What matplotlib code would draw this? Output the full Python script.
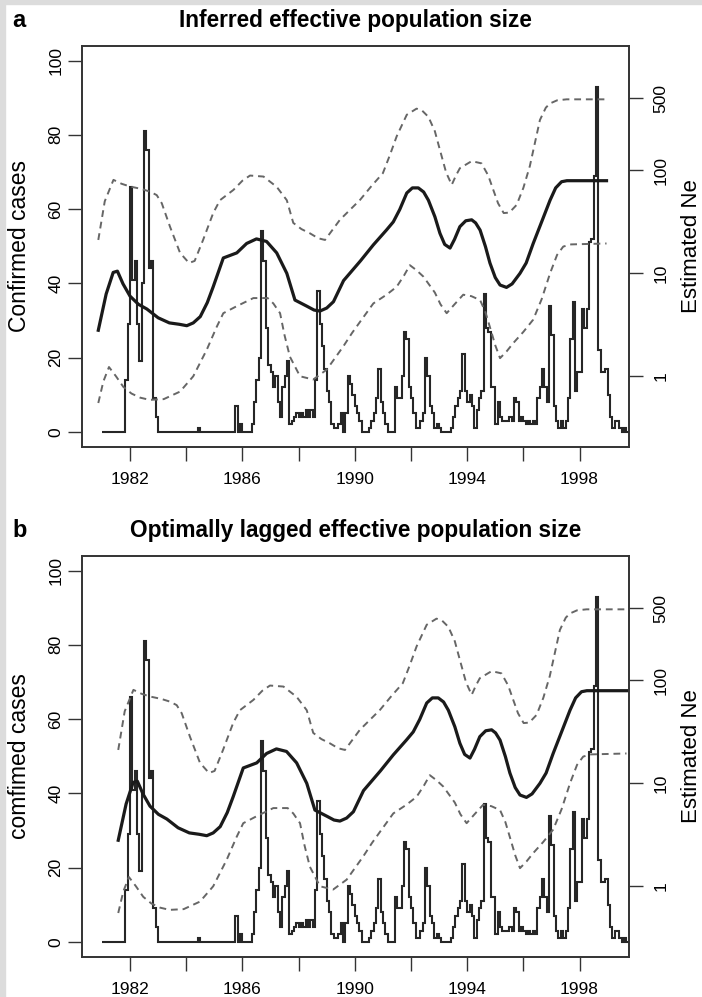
import numpy as np
import matplotlib
matplotlib.use('agg')
matplotlib.rcParams.update(
    {'font.size': 12.5,
     'font.family': ['Liberation Sans', 'DejaVu Sans']}
)
import matplotlib.pyplot as plt
from matplotlib.patches import Rectangle

# monthly confirmed cases, Jan 1981 .. Sep 1999
cases_start = 1981.0
cases = [
    0, 0, 0, 0, 0, 0, 0, 0, 0, 0, 14, 29,           # 1981
    66, 41, 46, 29, 19, 40, 81, 76, 44, 46, 9, 4,   # 1982
    0, 0, 0, 0, 0, 0, 0, 0, 0, 0, 0, 0,             # 1983
    0, 0, 0, 0, 0, 1, 0, 0, 0, 0, 0, 0,             # 1984
    0, 0, 0, 0, 0, 0, 0, 0, 0, 7, 0, 2,             # 1985
    0, 0, 0, 0, 2, 8, 14, 20, 54, 46, 28, 18,       # 1986
    16, 12, 15, 8, 4, 12, 15, 19, 2, 3, 4, 5,       # 1987
    4, 5, 4, 6, 4, 6, 4, 14, 38, 29, 23, 17,        # 1988
    11, 8, 2, 1, 1, 2, 5, 0, 5, 15, 13, 10,         # 1989
    7, 5, 3, 0, 0, 0, 1, 3, 5, 9, 17, 8,            # 1990
    5, 2, 0, 0, 0, 12, 9, 9, 15, 27, 25, 12,        # 1991
    9, 5, 1, 1, 3, 5, 20, 15, 7, 5, 1, 2,           # 1992
    1, 0, 0, 0, 0, 1, 4, 7, 9, 11, 21, 11,          # 1993
    8, 10, 7, 1, 6, 9, 11, 37, 28, 27, 12, 12,      # 1994
    2, 8, 4, 3, 3, 3, 4, 3, 9, 8, 3, 4,             # 1995
    3, 2, 3, 2, 3, 2, 9, 12, 17, 12, 8, 34,         # 1996
    26, 7, 3, 1, 3, 1, 3, 9, 25, 35, 11, 16,        # 1997
    16, 33, 28, 33, 51, 52, 69, 93, 22, 16, 16, 17, # 1998
    10, 4, 1, 3, 3, 1, 0, 1, 0,                     # 1999
]

# inferred Ne (median and 95% bounds)
ne_mid_t = [1980.87, 1981.15, 1981.4, 1981.55, 1981.75, 1982.0, 1982.3, 1982.6,
            1983.0, 1983.4, 1983.75, 1984.02, 1984.25, 1984.5, 1984.75, 1984.96,
            1985.32, 1985.8, 1986.15, 1986.5, 1986.86, 1987.22, 1987.58, 1987.87,
            1988.29, 1988.55, 1988.76, 1989.0, 1989.24, 1989.6, 1990.2, 1990.66,
            1991.13, 1991.37, 1991.6, 1991.85, 1992.05, 1992.26, 1992.45, 1992.62,
            1992.85, 1993.03, 1993.2, 1993.39, 1993.55, 1993.74, 1993.95, 1994.16,
            1994.3, 1994.46, 1994.65, 1994.81, 1995.0, 1995.17, 1995.4, 1995.6,
            1995.88, 1996.1, 1996.35, 1996.65, 1996.95, 1997.15, 1997.36, 1997.55,
            1998.96]
ne_mid = [2.8, 6.3, 10.2, 10.5, 7.9, 6.0, 5.0, 4.5,
          3.7, 3.3, 3.2, 3.1, 3.3, 3.8, 5.2, 7.4,
          14.1, 15.8, 19.5, 21.6, 20.4, 15.8, 10.0, 5.5,
          4.8, 4.4, 4.3, 4.6, 5.3, 8.5, 13.2, 18.9,
          26.4, 31.6, 41.7, 60.3, 67.6, 67.6, 61.7, 51.3,
          35.5, 24.5, 19.1, 17.6, 21.4, 28.4, 32.4, 33.1,
          30.9, 26.3, 18.2, 12.6, 9.1, 7.7, 7.3, 7.9,
          10.0, 12.6, 19.5, 31.6, 51.3, 67.6, 77.6, 79.4,
          79.4]

ne_hi_t = [1980.87, 1981.1, 1981.41, 1981.7, 1982.0, 1982.4, 1982.71, 1982.95,
           1983.13, 1983.42, 1983.78, 1984.1, 1984.3, 1984.6, 1984.96, 1985.2,
           1985.68, 1986.0, 1986.27, 1986.75, 1987.22, 1987.58, 1987.81, 1988.1,
           1988.4, 1988.7, 1988.94, 1989.2, 1989.47, 1990.19, 1990.6, 1991.0,
           1991.25, 1991.49, 1991.85, 1992.2, 1992.4, 1992.62, 1992.85, 1993.03,
           1993.25, 1993.45, 1993.6, 1993.74, 1994.16, 1994.51, 1994.75, 1994.93,
           1995.1, 1995.3, 1995.5, 1995.76, 1996.0, 1996.23, 1996.59, 1996.8,
           1996.95, 1997.2, 1997.54, 1998.96]
ne_hi = [21.1, 50.1, 80.9, 74.1, 69.7, 66.1, 62.2, 57.5,
         47.9, 28.5, 15.8, 12.6, 13.2, 21.1, 38.5, 51.3,
         64.6, 79.4, 89.1, 87.1, 69.2, 51.3, 30.9, 26.9,
         24.5, 21.9, 21.1, 26.3, 33.1, 51.8, 70.8, 94.0,
         141, 214, 347, 398, 380, 331, 240, 158,
         95.5, 72.4, 89.1, 105, 123, 117, 89.1, 64.6,
         47.9, 38.5, 38.9, 46.2, 67.6, 110, 309, 407,
         447, 479, 490, 490]

ne_lo_t = [1980.87, 1981.05, 1981.25, 1981.5, 1981.76, 1982.05, 1982.36, 1982.7,
           1983.2, 1983.78, 1984.25, 1984.73, 1985.08, 1985.32, 1985.8, 1986.39,
           1986.9, 1987.1, 1987.34, 1987.5, 1987.69, 1988.05, 1988.52, 1989.0,
           1989.3, 1989.59, 1989.9, 1990.19, 1990.66, 1991.13, 1991.49, 1991.75,
           1991.96, 1992.2, 1992.44, 1992.85, 1993.05, 1993.27, 1993.55, 1993.86,
           1994.15, 1994.46, 1994.65, 1994.81, 1995.0, 1995.17, 1995.4, 1995.64,
           1996.0, 1996.35, 1996.65, 1996.95, 1997.2, 1997.42, 1997.7, 1998.96]
ne_lo = [0.55, 0.89, 1.23, 1.0, 0.79, 0.68, 0.62, 0.59,
         0.60, 0.71, 1.0, 1.81, 3.0, 4.1, 4.8, 5.75,
         5.75, 5.1, 4.1, 2.5, 1.55, 1.0, 0.93, 1.16,
         1.51, 1.95, 2.63, 3.39, 5.1, 6.2, 7.4, 9.5,
         12.0, 10.7, 9.3, 6.5, 5.0, 4.1, 5.0, 6.2,
         6.0, 5.5, 4.2, 3.0, 2.0, 1.5, 1.74, 2.1,
         2.7, 3.55, 5.6, 10.0, 15.1, 18.2, 19.1, 19.5]

lag = 0.71  # years, for the lagged panel

edges = cases_start + np.arange(len(cases) + 1) / 12.0

W, H = 702, 997
fig = plt.figure(figsize=(W / 100, H / 100), dpi=100)
fig.patch.set_facecolor('white')
fig.patches.append(Rectangle((0, 0), 5 / W, 1, transform=fig.transFigure,
                             color='#dcdcdc', zorder=0))
fig.patches.append(Rectangle((0, 1 - 4 / H), 1, 4 / H, transform=fig.transFigure,
                             color='#dcdcdc', zorder=0))

panels = [
    dict(top=45.7, shift=0.0, letter='a', title='Inferred effective population size',
         ylab='Confirmed cases'),
    dict(top=555.7, shift=lag, letter='b', title='Optimally lagged effective population size',
         ylab='comfimed cases'),
]

left, right = 82, 629
h = 401
tick_kw = dict(direction='out', length=10, width=1.0, color='#333333')

for p in panels:
    ax = fig.add_axes([left / W, 1 - (p['top'] + h) / H, (right - left) / W, h / H])
    ax.stairs(cases, edges, baseline=None, color='#262626', lw=1.5, zorder=2)
    ax.set_xlim(1980.29, 1999.76)
    ax.set_ylim(-4, 104)
    ax.set_yticks(range(0, 101, 20))
    ax.set_xticks(range(1982, 1999, 2))
    ax.set_xticklabels([str(y) if (y - 1982) % 4 == 0 else '' for y in range(1982, 1999, 2)])
    ax.tick_params(axis='x', pad=8.5, **tick_kw)
    ax.tick_params(axis='y', pad=3.5, labelrotation=90, **tick_kw)
    for lab in ax.get_yticklabels():
        lab.set_va('center')
    for s in ax.spines.values():
        s.set_linewidth(1.2)
        s.set_color('#333333')

    ax2 = ax.twinx()
    ax2.set_yscale('log')
    ax2.set_ylim(0.207, 1626)
    ax2.plot(np.array(ne_hi_t) + p['shift'], ne_hi, color='#666666', lw=1.4,
             ls=(0, (3.5, 2.5)), zorder=3)
    ax2.plot(np.array(ne_lo_t) + p['shift'], ne_lo, color='#666666', lw=1.4,
             ls=(0, (3.5, 2.5)), zorder=3)
    ax2.plot(np.array(ne_mid_t) + p['shift'], ne_mid, color='#1a1a1a', lw=2.3, zorder=4)
    ax2.set_yticks([1, 10, 100, 500])
    ax2.set_yticklabels(['1', '10', '100', '500'])
    ax2.yaxis.set_minor_locator(matplotlib.ticker.NullLocator())
    ax2.tick_params(axis='y', pad=7.5, labelrotation=90, **tick_kw)
    for lab in ax2.get_yticklabels():
        lab.set_va('center')
    for s in ax2.spines.values():
        s.set_linewidth(1.2)
        s.set_color('#333333')

    mid = 1 - (p['top'] + h / 2) / H
    fig.text(12 / W, 1 - (p['top'] - 18.5) / H, p['letter'], fontsize=17,
             fontweight='bold', va='baseline', ha='left')
    fig.text((left + right) / 2 / W, 1 - (p['top'] - 18.5) / H, p['title'],
             fontsize=16.3, fontweight='bold', va='baseline', ha='center')
    fig.text(8 / W, mid, p['ylab'], rotation=90, fontsize=16.5, ha='left', va='center')
    fig.text(681 / W, mid, 'Estimated Ne', rotation=90, fontsize=16, ha='left',
             va='center')

fig.savefig('out.png', dpi=100, facecolor=fig.get_facecolor())
